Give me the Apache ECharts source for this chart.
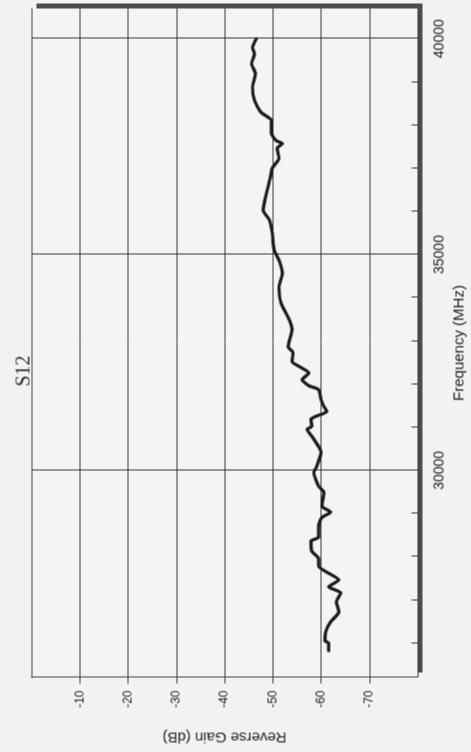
<!DOCTYPE html>
<html>
<head>
<meta charset="utf-8">
<script src="https://cdn.jsdelivr.net/npm/echarts@6/dist/echarts.min.js"></script>
<style>
  html, body { margin: 0; padding: 0; width: 471px; height: 752px; overflow: hidden; background: #f2f2f2; }
  #wrap { position: absolute; left: -140.5px; top: 140.5px; width: 752px; height: 471px; transform: rotate(-90deg); }
  #chart { width: 752px; height: 471px; }
</style>
</head>
<body>
<div id="wrap"><div id="chart"></div></div>
<script>
// Frequency (MHz) and reverse gain S12 (dB)
const freqMHz = [25820, 26000, 26050, 26260, 26490, 26720, 26950, 27160, 27300, 27460,
  27780, 27950, 28130, 28360, 28450, 28710, 28910, 29030, 29170, 29490,
  29630, 29950, 30090, 30420, 30550, 30790, 30950, 31020, 31180, 31250,
  31360, 31480, 31640, 31870, 31960, 32100, 32260, 32380, 32520, 32730,
  32860, 33260, 33490, 33880, 34250, 34570, 34870, 35100, 35500, 35800,
  36030, 36420, 36790, 37000, 37230, 37460, 37570, 37640, 37810, 38110,
  38290, 38570, 38870, 39190, 39420, 39650, 39790, 40000];
const gainDb = [-61.6, -61.6, -60.8, -61.0, -62.0, -63.7, -63.2, -64.1, -61.6, -63.7,
  -59.5, -59.5, -58.1, -57.9, -59.5, -59.5, -60.2, -62.0, -60.2, -60.6,
  -59.5, -58.5, -59.1, -60.0, -59.5, -58.1, -57.1, -58.1, -57.9, -58.9,
  -61.2, -60.6, -60.0, -59.5, -57.5, -56.1, -57.5, -55.9, -54.0, -54.2,
  -53.2, -54.0, -53.4, -51.7, -51.3, -52.0, -51.3, -50.3, -49.9, -49.3,
  -48.0, -48.7, -49.5, -49.9, -51.3, -50.9, -52.0, -50.7, -49.7, -49.7,
  -47.6, -46.2, -45.8, -46.4, -45.6, -46.2, -45.8, -46.6];

// Tick labels / tick positions
const freqLabels = [30000, 35000, 40000];
const freqMinorTicks = [26000, 27000, 28000, 29000, 31000, 32000, 33000, 34000, 36000, 37000, 38000, 39000];
const gainMin = -80, gainMax = 0, gainStep = 10;

const chart = echarts.init(document.getElementById('chart'), null, { renderer: 'canvas' });
const sans = 'Liberation Sans, Arial, sans-serif';
chart.setOption({
  animation: false,
  backgroundColor: '#f2f2f2',
  title: {
    text: 'S12', left: 366, top: 14, padding: 0,
    textStyle: { fontFamily: 'Liberation Serif, Times New Roman, serif', fontSize: 20, fontWeight: 'normal', color: '#2a2a2a' }
  },
  grid: {
    left: 73, right: 8, top: 31, bottom: 52,
    show: true, backgroundColor: '#f4f4f4', borderColor: 'transparent', borderWidth: 0,
    shadowColor: '#4c4c4c', shadowBlur: 0, shadowOffsetX: 5, shadowOffsetY: 5
  },
  xAxis: [{
    type: 'value', min: 25200, max: 40700, position: 'bottom',
    name: 'Frequency (MHz)', nameLocation: 'middle', nameGap: 34,
    nameTextStyle: { fontFamily: sans, fontSize: 15, color: '#222' },
    axisLine: { show: true, lineStyle: { color: '#444', width: 1 } },
    axisTick: { show: true, customValues: freqLabels, inside: false, length: 15, lineStyle: { color: '#3a3a3a', width: 1 } },
    axisLabel: { customValues: freqLabels, formatter: v => String(v), fontFamily: sans, fontSize: 14, color: '#222', margin: 15 },
    splitLine: { show: true, lineStyle: { color: '#3a3a3a', width: 1 } }
  }, {
    type: 'value', min: 25200, max: 40700, position: 'bottom',
    axisLine: { show: false },
    axisTick: { show: true, customValues: freqMinorTicks, inside: true, length: 6, lineStyle: { color: '#3a3a3a', width: 1 } },
    axisLabel: { show: false },
    splitLine: { show: false }
  }],
  yAxis: {
    type: 'value', min: gainMin, max: gainMax, interval: gainStep, position: 'left',
    name: 'Reverse Gain (dB)', nameLocation: 'middle', nameGap: 52, nameRotate: 90,
    nameTextStyle: { fontFamily: sans, fontSize: 15, color: '#222' },
    axisLine: { show: true, lineStyle: { color: '#444', width: 1 } },
    axisTick: { show: true, inside: false, length: 6, lineStyle: { color: '#3a3a3a', width: 1 } },
    axisLabel: { fontFamily: sans, fontSize: 12, color: '#222', margin: 13, showMinLabel: false, showMaxLabel: false },
    splitLine: { show: true, lineStyle: { color: '#3a3a3a', width: 1 } }
  },
  series: [{
    type: 'line', xAxisIndex: 0,
    data: freqMHz.map((f, i) => [f, gainDb[i]]),
    showSymbol: false, symbol: 'none', smooth: 0.2,
    lineStyle: { color: '#1a1a1a', width: 3.2, join: 'round', cap: 'round' }
  }]
});
</script>
</body>
</html>
